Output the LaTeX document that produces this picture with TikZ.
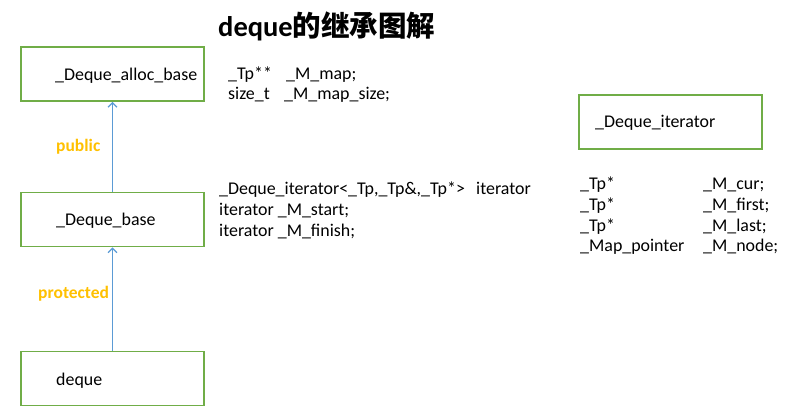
\documentclass[tikz,border=0pt]{standalone}
\usepackage{fontspec}
\setmainfont{Carlito}
\newfontfamily\cjkfont{Noto Sans CJK SC}
\usetikzlibrary{arrows.meta}
\definecolor{boxgreen}{RGB}{112,173,71}
\definecolor{arrowblue}{RGB}{91,155,213}
\definecolor{labelorange}{RGB}{255,192,0}
\tikzset{
  classbox/.style={draw=boxgreen, line width=1.8pt, minimum width=183pt, minimum height=54pt, inner sep=0pt},
  txt/.style={anchor=base west, inner sep=0pt, font=\fontsize{17.9}{21}\selectfont},
  lbl/.style={anchor=base west, inner sep=0pt, text=labelorange, font=\fontsize{17.5}{21}\selectfont\bfseries},
  inherit/.style={draw=arrowblue, line width=1.5pt, -{Straight Barb[length=4.5pt,width=9pt,line width=1.2pt]}}
}
\begin{document}
\begin{tikzpicture}[x=1pt,y=-1pt]
\useasboundingbox (0,0) rectangle (787,419);
% title
\node[anchor=base west, inner sep=0pt] (title) at (218,37) {\fontsize{28.5}{32}\selectfont\bfseries deque{\cjkfont\bfseries 的继承图解}};
% boxes
\node[classbox] (alloc) at (112.5,74) {};
\node[classbox] (base) at (112.5,219.5) {};
\node[classbox] (deque) at (112.5,378.5) {};
\node[classbox] (iter) at (670.5,122) {};
% box texts
\node[txt] (alloct) at (55,81) {\_Deque\_alloc\_base};
\node[txt] (baset) at (56,226) {\_Deque\_base};
\node[txt] (dequet) at (56,385) {deque};
\node[txt] (itert) at (595,128) {\_Deque\_iterator};
% arrows
\draw[inherit] (base.north) -- (alloc.south);
\draw[inherit] (deque.north) -- (base.south);
\node[lbl] (pub) at (56,152) {public};
\node[lbl] (prot) at (38,299) {protected};
% alloc base members
\node[txt] (m1a) at (228,80) {\_Tp**};
\node[txt] (m1b) at (286,80) {\_M\_map;};
\node[txt] (m2a) at (228,100) {size\_t};
\node[txt] (m2b) at (284,100) {\_M\_map\_size;};
% base members
\node[txt] (b1a) at (219,195) {\_Deque\_iterator<\_Tp,\_Tp\&,\_Tp*>};
\node[txt] (b1b) at (476,195) {iterator};
\node[txt] (b2) at (219,216) {iterator \_M\_start;};
\node[txt] (b3) at (219,237) {iterator \_M\_finish;};
% iterator members
\node[txt] (i1a) at (580,190) {\_Tp*};
\node[txt] (i1b) at (703,190) {\_M\_cur;};
\node[txt] (i2a) at (580,211) {\_Tp*};
\node[txt] (i2b) at (703,211) {\_M\_first;};
\node[txt] (i3a) at (580,232) {\_Tp*};
\node[txt] (i3b) at (703,232) {\_M\_last;};
\node[txt] (i4a) at (580,252) {\_Map\_pointer};
\node[txt] (i4b) at (703,252) {\_M\_node;};
\end{tikzpicture}
\end{document}
